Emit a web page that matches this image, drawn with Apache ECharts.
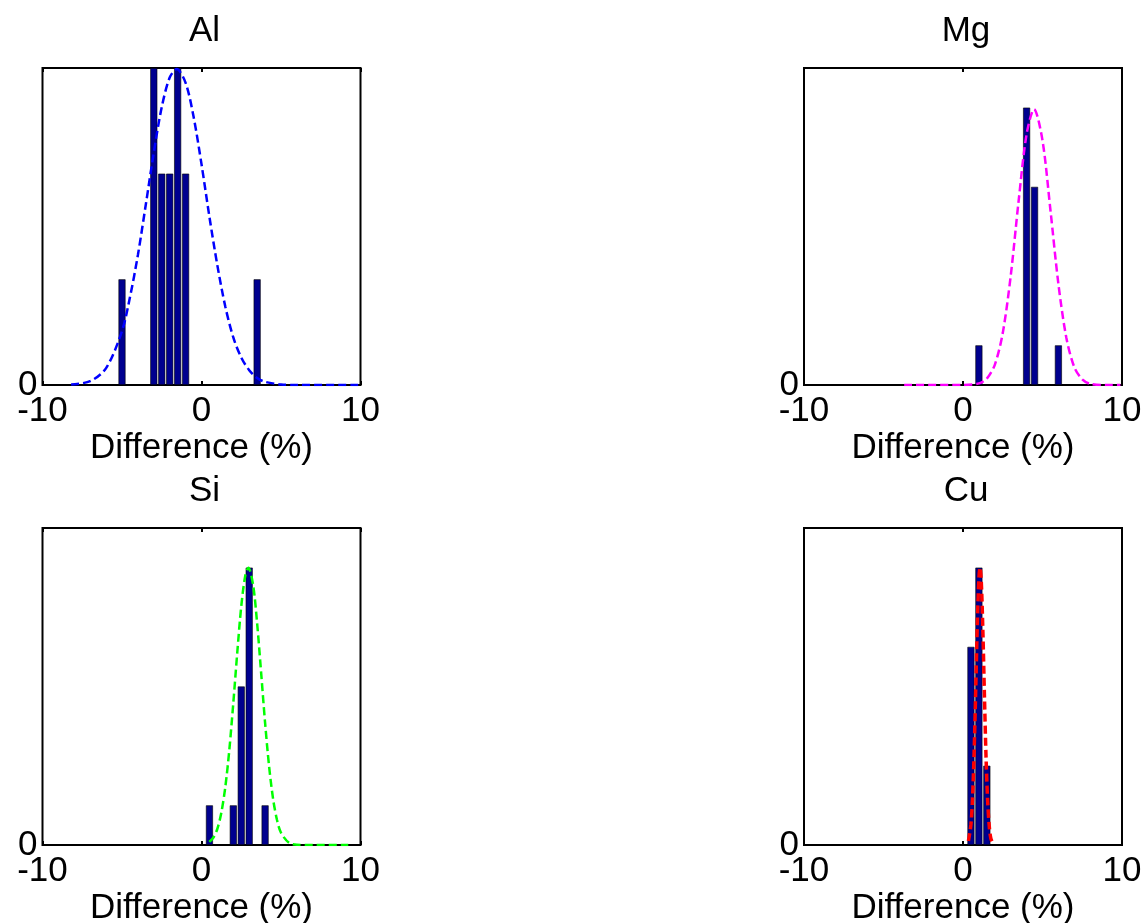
<!DOCTYPE html>
<html><head><meta charset="utf-8">
<script src="https://cdn.jsdelivr.net/npm/echarts@6/dist/echarts.min.js"></script>
<style>html,body{margin:0;padding:0;background:#fff}#c{width:1143px;height:923px}</style>
</head><body><div id="c"></div>
<script>
// ---- data ----
const panelTitles = ['Al', 'Mg', 'Si', 'Cu'];
const xAxisName = 'Difference (%)';
const xMin = -10, xMax = 10, xStep = 10;
const yMaxes = [3, 8, 8, 8];

const alBinCenters = [-5, -3, -2.5, -2, -1.5, -1, 3.5];
const alCounts     = [1, 3, 2, 2, 3, 2, 1];
const mgBinCenters = [1, 4, 4.5, 6];
const mgCounts     = [1, 7, 5, 1];
const siBinCenters = [0.5, 2, 2.5, 3, 4];
const siCounts     = [1, 1, 4, 7, 1];
const cuBinCenters = [0.5, 1, 1.5];
const cuCounts     = [5, 7, 2];

const alFitX = [-8.2, -7, -6, -5, -4.5, -4, -3.5, -3, -2.5, -2, -1.56, -1, -0.5, 0, 0.5, 1, 1.5, 2, 2.5, 3, 3.5, 4, 5, 6, 10];
const alFitY = [0.004, 0.036, 0.16, 0.51, 0.83, 1.23, 1.71, 2.2, 2.63, 2.91, 2.99, 2.86, 2.54, 2.09, 1.59, 1.13, 0.74, 0.45, 0.26, 0.14, 0.066, 0.03, 0.005, 0, 0];
const mgFitX = [-3.7, 0, 1, 1.5, 2, 2.5, 3, 3.5, 4, 4.47, 5, 5.5, 6, 6.5, 7, 7.5, 8, 9, 9.9];
const mgFitY = [0, 0.001, 0.04, 0.16, 0.51, 1.31, 2.75, 4.65, 6.33, 6.96, 6.17, 4.41, 2.55, 1.19, 0.45, 0.14, 0.03, 0, 0];
const siFitX = [0.49, 0.75, 1, 1.25, 1.5, 1.75, 2, 2.25, 2.5, 2.75, 2.95, 3.25, 3.5, 3.75, 4, 4.25, 4.5, 4.75, 5, 5.5, 6, 7, 9.23];
const siFitY = [0.08, 0.19, 0.41, 0.82, 1.47, 2.4, 3.58, 4.86, 6.02, 6.79, 7.0, 6.55, 5.59, 4.35, 3.08, 1.99, 1.17, 0.63, 0.31, 0.056, 0.007, 0, 0];
const cuFitX = [0.34, 0.5, 0.6, 0.7, 0.8, 0.9, 1.0, 1.07, 1.15, 1.25, 1.35, 1.45, 1.55, 1.65, 1.75, 1.89];
const cuFitY = [0.1, 0.52, 1.19, 2.34, 3.91, 5.56, 6.73, 7.0, 6.65, 5.4, 3.74, 2.2, 1.11, 0.48, 0.17, 0.03];

const binCenters = [alBinCenters, mgBinCenters, siBinCenters, cuBinCenters];
const counts = [alCounts, mgCounts, siCounts, cuCounts];
const fitXs = [alFitX, mgFitX, siFitX, cuFitX];
const fitYs = [alFitY, mgFitY, siFitY, cuFitY];

// ---- styles / layout ----
const fitColors = ['#0000ff', '#ff00ff', '#00ff00', '#ff0000'];
const fitWidths = [2.5, 2.5, 2.5, 3.5];
const barColor = '#00008f';
const FONT = '"Liberation Sans", Arial, Helvetica, sans-serif';
const FS = 35;
const gridPos = [
  {left: 42.5, top: 68}, {left: 804, top: 68},
  {left: 42.5, top: 528}, {left: 804, top: 528}
];
const GW = 318, GH = 317;

const grids = [], xAxes = [], yAxes = [], series = [], titleArr = [];
for (let i = 0; i < 4; i++) {
  grids.push({left: gridPos[i].left, top: gridPos[i].top, width: GW, height: GH,
    containLabel: false, outerBoundsMode: 'none',
    show: true, borderColor: '#000', borderWidth: 2, backgroundColor: '#fff'});
  xAxes.push({type: 'value', gridIndex: i, min: xMin, max: xMax, interval: xStep,
    position: 'bottom',
    name: xAxisName, nameLocation: 'middle', nameGap: 46,
    nameTextStyle: {fontFamily: FONT, fontSize: FS, color: '#000'},
    axisLine: {show: false},
    axisTick: {show: true, inside: true, length: 4, lineStyle: {color: '#000', width: 2}},
    axisLabel: {fontFamily: FONT, fontSize: FS, color: '#000', margin: 9},
    splitLine: {show: false}});
  xAxes.push({type: 'value', gridIndex: i, min: xMin, max: xMax, interval: xStep,
    position: 'top',
    axisLine: {show: false},
    axisTick: {show: true, inside: true, length: 4, lineStyle: {color: '#000', width: 2}},
    axisLabel: {show: false}, splitLine: {show: false}});
  yAxes.push({type: 'value', gridIndex: i, min: 0, max: yMaxes[i], interval: yMaxes[i],
    axisLine: {show: false}, axisTick: {show: false},
    axisLabel: {fontFamily: FONT, fontSize: FS, color: '#000', margin: 5, showMaxLabel: false},
    splitLine: {show: false}});
  titleArr.push({text: panelTitles[i], left: gridPos[i].left + GW / 2 - 2, top: gridPos[i].top - 59,
    textAlign: 'center',
    textStyle: {fontFamily: FONT, fontSize: FS, fontWeight: 'normal', color: '#000'}});
  series.push({type: 'bar', xAxisIndex: 2 * i, yAxisIndex: i, barWidth: 7,
    data: binCenters[i].map((x, k) => [x, counts[i][k]]),
    itemStyle: {color: barColor, borderColor: '#000', borderWidth: 0.6},
    silent: true, animation: false, z: 2});
  series.push({type: 'line', xAxisIndex: 2 * i, yAxisIndex: i, symbol: 'none', smooth: 0.3,
    data: fitXs[i].map((x, k) => [x, fitYs[i][k]]),
    lineStyle: {color: fitColors[i], width: fitWidths[i], type: [8, 4]},
    silent: true, animation: false, z: 3});
}

const chart = echarts.init(document.getElementById('c'), null, {renderer: 'canvas'});
chart.setOption({
  backgroundColor: '#fff', animation: false,
  title: titleArr, grid: grids, xAxis: xAxes, yAxis: yAxes, series: series
});
</script>
</body></html>
